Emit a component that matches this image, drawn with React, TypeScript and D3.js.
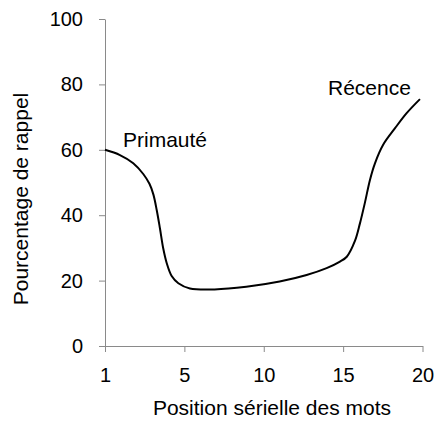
import React, { useEffect, useRef } from 'react';
import * as d3 from 'd3';

// serial position curve (x = axis position, y = % recall)
const positions = [0, 0.94, 1.78, 2.41, 2.8, 3.05, 3.26, 3.46, 3.67, 3.89, 4.2, 4.62, 5.35, 6.9, 8.9, 11.0, 12.7, 13.96, 14.8, 15.23, 15.75, 16.06, 16.38, 16.69, 17.0, 17.53, 18.27, 19.0, 19.84];
const recall = [60, 58.4, 55.9, 52.6, 49.6, 46.3, 41.5, 36.0, 29.8, 25.3, 21.4, 19.2, 17.6, 17.3, 18.1, 19.7, 21.7, 23.8, 25.8, 27.3, 32.2, 37.5, 44.0, 50.8, 55.8, 61.6, 66.6, 71.2, 75.5];

const xTicks = [0, 5, 10, 15, 20];
const xTickLabels = ['1', '5', '10', '15', '20'];
const yTicks = [0, 20, 40, 60, 80, 100];

const FONT = '"Liberation Sans", Arial, sans-serif';
const AXIS_COLOR = '#8a8a8a';

export default function App() {
  const svgRef = useRef<SVGSVGElement>(null);

  useEffect(() => {
    if (!svgRef.current) return;
    const svg = d3.select(svgRef.current);
    svg.selectAll('*').remove();

    const x = d3.scaleLinear().domain([0, 20]).range([105, 422.5]);
    const y = d3.scaleLinear().domain([0, 100]).range([346, 19]);

    // y axis
    const yAxis = svg.append('g')
      .attr('transform', 'translate(105,0)')
      .call(d3.axisLeft(y).tickValues(yTicks).tickSize(6).tickSizeOuter(0).tickPadding(16));
    yAxis.select('.domain').attr('stroke', AXIS_COLOR);
    yAxis.selectAll('.tick line').attr('stroke', AXIS_COLOR);
    yAxis.selectAll('text')
      .style('font-family', FONT)
      .style('font-size', '20px')
      .attr('fill', '#000');

    // x axis
    const xAxis = svg.append('g')
      .attr('transform', 'translate(0,346)')
      .call(d3.axisBottom(x).tickValues(xTicks).tickSize(6).tickSizeOuter(0).tickPadding(15.5)
        .tickFormat((d, i) => xTickLabels[i]));
    xAxis.select('.domain').attr('stroke', AXIS_COLOR);
    xAxis.selectAll('.tick line').attr('stroke', AXIS_COLOR);
    xAxis.selectAll('text')
      .style('font-family', FONT)
      .style('font-size', '20px')
      .attr('fill', '#000');

    // curve - smooth line through the read points
    const pts = positions.map((p, i) => [p, recall[i]] as [number, number]);
    const line = d3.line<[number, number]>()
      .x(d => x(d[0]))
      .y(d => y(d[1]))
      .curve(d3.curveCatmullRom.alpha(0.5));

    svg.append('path')
      .datum(pts)
      .attr('d', line)
      .attr('fill', 'none')
      .attr('stroke', '#000')
      .attr('stroke-width', 2);

    // annotations
    const label = (txt: string, tx: number, ty: number) =>
      svg.append('text')
        .attr('x', tx)
        .attr('y', ty)
        .style('font-family', FONT)
        .style('font-size', '21px')
        .attr('fill', '#000')
        .text(txt);

    label('Primauté', 123, 147);
    label('Récence', 328, 95);

    // axis titles
    svg.append('text')
      .attr('x', 272)
      .attr('y', 415)
      .attr('text-anchor', 'middle')
      .style('font-family', FONT)
      .style('font-size', '21px')
      .text('Position sérielle des mots');

    svg.append('text')
      .attr('transform', 'translate(28,199) rotate(-90)')
      .attr('text-anchor', 'middle')
      .style('font-family', FONT)
      .style('font-size', '21px')
      .text('Pourcentage de rappel');
  }, []);

  return (
    <div style={{ position: 'absolute', left: 0, top: 0 }}>
      <svg ref={svgRef} width={437} height={424} style={{ display: 'block', background: '#fff' }} />
    </div>
  );
}
